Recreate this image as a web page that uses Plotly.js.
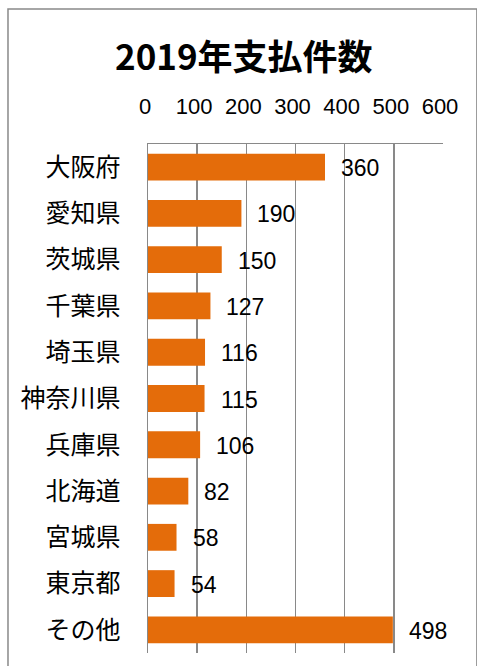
<!DOCTYPE html>
<html>
<head>
<meta charset="utf-8">
<script src="https://cdn.plot.ly/plotly-3.0.1.min.js"></script>
<style>
html,body{margin:0;padding:0;background:#fff;}
#chart{width:477px;height:666px;}
</style>
</head>
<body>
<div id="chart"></div>
<script>
const categories = ["大阪府","愛知県","茨城県","千葉県","埼玉県","神奈川県","兵庫県","北海道","宮城県","東京都","その他"];
const values = [360,190,150,127,116,115,106,82,58,54,498];
const tickValues = [0,100,200,300,400,500,600];
const titleText = "2019年支払件数";

const jpFont = "'Noto Sans CJK JP', 'Noto Sans', sans-serif";
const numFont = "'Liberation Sans', 'Noto Sans', sans-serif";

const trace = {
  type: "bar",
  orientation: "h",
  x: values,
  y: categories,
  marker: {color: "#E46C0A"},
  hoverinfo: "none"
};

const annotations = values.map((v, i) => ({
  x: v, y: categories[i], xref: "x", yref: "y",
  text: String(v), showarrow: false,
  xanchor: "left", yanchor: "middle", xshift: 14, yshift: -1,
  font: {family: numFont, size: 23, color: "#000"}
}));
annotations.push({
  xref: "paper", yref: "paper", x: 0.327, y: 1.175,
  text: "<b>" + titleText + "</b>", showarrow: false,
  xanchor: "center", yanchor: "middle",
  font: {family: jpFont, size: 35, color: "#000"}
});

const layout = {
  width: 477, height: 666,
  margin: {l: 148, r: 34, t: 144, b: 13},
  paper_bgcolor: "#fff", plot_bgcolor: "#fff",
  showlegend: false,
  bargap: 0.42,
  xaxis: {
    side: "top", range: [0, 600], tickvals: tickValues,
    ticktext: tickValues.map(String),
    showgrid: true, gridcolor: "#898989", gridwidth: 1.5,
    zeroline: false, showline: true, linecolor: "#898989", linewidth: 1.5,
    ticks: "", ticklen: 0, ticklabelstandoff: 20, ticklabelshift: -3,
    tickfont: {family: numFont, size: 22, color: "#000"},
    fixedrange: true
  },
  yaxis: {
    autorange: "reversed", type: "category",
    showgrid: false, zeroline: false,
    showline: true, linecolor: "#898989", linewidth: 1.5,
    ticks: "", ticklabelstandoff: 21,
    tickfont: {family: jpFont, size: 25, color: "#000"},
    fixedrange: true
  },
  annotations: annotations,
  shapes: [{
    type: "rect", xref: "paper", yref: "paper",
    x0: -0.4746, x1: 1.115, y0: -0.05, y1: 1.2652,
    line: {color: "#898989", width: 1.5}, fillcolor: "rgba(0,0,0,0)", layer: "below"
  }]
};

Plotly.newPlot("chart", [trace], layout, {staticPlot: true, displayModeBar: false});
</script>
</body>
</html>
